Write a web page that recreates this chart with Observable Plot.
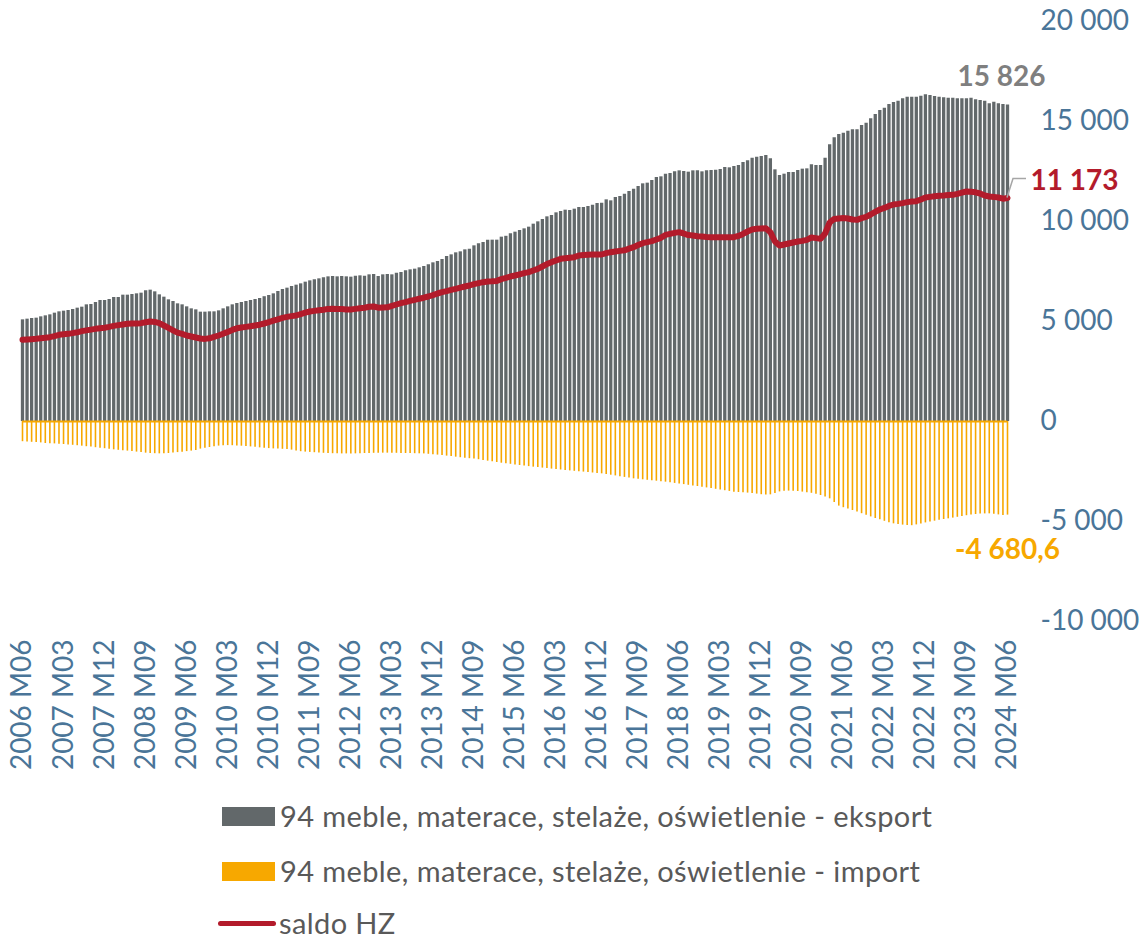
<!DOCTYPE html>
<html><head><meta charset="utf-8">
<script src="https://cdn.jsdelivr.net/npm/d3@7"></script>
<script src="https://cdn.jsdelivr.net/npm/@observablehq/plot@0.6"></script>
<style>
html,body{margin:0;padding:0;background:#fff;}
body{width:1140px;height:941px;position:relative;font-family:Lato,"Open Sans",sans-serif;}
#chart{position:absolute;left:0;top:0;}
.lg{position:absolute;left:0;height:26px;line-height:26px;display:flex;align-items:center;font-size:29px;letter-spacing:0.4px;color:#595959;white-space:nowrap;}
.sw{display:inline-block;margin-right:5px;}
</style></head>
<body>
<div id="chart"></div>
<div id="legend"></div>
<script>
// ---- data ----
const startYear = 2006, startMonth = 6;
const exportVals = [
5083,5117,5150,5167,5233,5283,5333,5417,5483,5517,
5550,5600,5667,5717,5833,5850,5950,6050,6050,6100,
6200,6200,6317,6317,6350,6383,6417,6533,6567,6483,
6333,6217,6083,6000,5883,5833,5733,5633,5583,5467,
5467,5483,5483,5533,5633,5733,5833,5900,5950,6000,
6050,6100,6150,6240,6300,6383,6500,6600,6667,6750,
6817,6883,6967,7033,7083,7133,7183,7233,7250,7233,
7250,7233,7217,7267,7283,7267,7333,7350,7250,7333,
7350,7333,7417,7450,7533,7583,7617,7683,7750,7833,
7933,8000,8100,8250,8333,8433,8483,8583,8617,8783,
8883,8950,9067,9067,9067,9217,9260,9383,9467,9550,
9633,9717,9867,9983,10100,10233,10300,10433,10500,10567,
10550,10617,10700,10700,10750,10817,10900,10917,11083,11033,
11200,11250,11367,11500,11617,11750,11883,11917,12050,12200,
12233,12367,12400,12483,12533,12500,12467,12533,12533,12483,
12533,12550,12567,12600,12700,12683,12750,12800,12950,13033,
13167,13217,13250,13300,13133,12583,12300,12367,12450,12450,
12550,12617,12633,12833,12800,12800,13167,13833,14183,14350,
14417,14517,14583,14583,14800,14917,15133,15350,15550,15667,
15850,15950,16017,16133,16217,16217,16217,16267,16333,16300,
16250,16217,16183,16167,16167,16133,16133,16133,16167,16083,
16050,16017,15883,15967,15883,15850,15826];
const importVals = [
-1010,-1020,-1040,-1055,-1070,-1100,-1110,-1120,-1135,-1150,
-1170,-1190,-1210,-1233,-1260,-1280,-1310,-1333,-1360,-1390,
-1417,-1440,-1460,-1480,-1500,-1530,-1555,-1583,-1600,-1610,
-1617,-1615,-1600,-1580,-1555,-1533,-1505,-1480,-1450,-1380,
-1340,-1300,-1260,-1230,-1215,-1205,-1210,-1220,-1235,-1250,
-1270,-1290,-1317,-1340,-1355,-1370,-1380,-1390,-1400,-1430,
-1470,-1510,-1530,-1545,-1560,-1575,-1590,-1600,-1610,-1617,
-1620,-1620,-1620,-1617,-1610,-1600,-1595,-1590,-1585,-1583,
-1583,-1585,-1590,-1595,-1600,-1605,-1610,-1615,-1620,-1640,
-1660,-1680,-1700,-1730,-1755,-1783,-1810,-1835,-1860,-1880,
-1910,-1945,-1983,-2015,-2050,-2085,-2117,-2140,-2170,-2200,
-2225,-2255,-2283,-2305,-2330,-2355,-2380,-2400,-2425,-2450,
-2470,-2490,-2510,-2530,-2555,-2575,-2595,-2617,-2650,-2685,
-2720,-2760,-2795,-2830,-2867,-2890,-2915,-2940,-2960,-2985,
-3010,-3033,-3065,-3095,-3125,-3155,-3190,-3220,-3250,-3283,
-3320,-3355,-3390,-3425,-3460,-3495,-3533,-3550,-3565,-3580,
-3600,-3630,-3660,-3680,-3667,-3600,-3520,-3483,-3480,-3483,
-3500,-3530,-3560,-3590,-3640,-3700,-3780,-3867,-4050,-4230,
-4310,-4370,-4450,-4530,-4610,-4690,-4770,-4850,-4917,-4990,
-5060,-5117,-5150,-5180,-5200,-5210,-5170,-5120,-5070,-5020,
-4983,-4940,-4900,-4867,-4830,-4790,-4750,-4710,-4680,-4650,
-4630,-4620,-4617,-4640,-4670,-4700,-4680.6];
const saldoVals = [
4083,4100,4115,4133,4160,4190,4217,4270,4333,4360,
4383,4420,4460,4517,4555,4595,4633,4660,4690,4730,
4780,4820,4850,4883,4895,4905,4917,4960,5000,4980,
4917,4800,4680,4560,4440,4380,4300,4250,4200,4150,
4130,4160,4230,4300,4390,4480,4580,4660,4700,4730,
4760,4800,4840,4900,4967,5040,5110,5183,5230,5270,
5300,5370,5440,5500,5530,5560,5590,5630,5640,5630,
5620,5600,5600,5630,5660,5690,5740,5750,5690,5700,
5710,5780,5850,5917,5970,6030,6083,6140,6190,6250,
6320,6400,6467,6520,6580,6633,6690,6750,6800,6870,
6920,6967,7000,7010,7030,7120,7180,7250,7300,7360,
7420,7467,7550,7633,7750,7870,7967,8050,8133,8160,
8190,8217,8300,8320,8340,8350,8350,8350,8420,8467,
8500,8530,8560,8640,8717,8820,8917,8970,9020,9100,
9183,9330,9380,9430,9467,9400,9320,9300,9260,9250,
9230,9217,9217,9210,9217,9210,9217,9280,9380,9500,
9600,9633,9650,9667,9467,9000,8800,8850,8900,8950,
9000,9030,9080,9200,9170,9133,9400,9950,10130,10150,
10170,10150,10100,10083,10170,10230,10350,10480,10600,10680,
10780,10850,10880,10920,10970,11000,11017,11100,11200,11230,
11260,11290,11300,11320,11333,11380,11440,11500,11490,11460,
11400,11300,11250,11230,11200,11140,11173];
const tickLabels = ["2006 M06","2007 M03","2007 M12","2008 M09","2009 M06","2010 M03","2010 M12","2011 M09","2012 M06","2013 M03","2013 M12","2014 M09","2015 M06","2016 M03","2016 M12","2017 M09","2018 M06","2019 M03","2019 M12","2020 M09","2021 M06","2022 M03","2022 M12","2023 M09","2024 M06"];
const yTicks = [-10000,-5000,0,5000,10000,15000,20000];
const seriesNames = ["94 meble, materace, stelaże, oświetlenie - eksport","94 meble, materace, stelaże, oświetlenie - import","saldo HZ"];
const endLabels = ["15 826","11 173","-4 680,6"];

// ---- build table ----
const months = exportVals.map((_, i) => {
  const m = startMonth - 1 + i;
  return `${startYear + Math.floor(m / 12)} M${String(m % 12 + 1).padStart(2, "0")}`;
});
const data = months.map((month, i) => ({i, month, exp: exportVals[i], imp: importVals[i], saldo: saldoVals[i]}));
const tickIdx = tickLabels.map(l => months.indexOf(l));
const last = data[data.length - 1];

const C = {exp: "#62686a", imp: "#f7a800", saldo: "#b31b2b", axis: "#4a7598", grey: "#7f7f7f"};
const fmtY = d => d3.format(",")(d).replace(/,/g, " ").replace("−", "-");

const leader = (index, scales) => {
  const x0 = scales.x(last.i), y0 = scales.y(last.saldo);
  return d3.create("svg:path")
    .attr("d", `M${x0},${y0}L${x0 + 6},${y0 - 19}L${x0 + 19},${y0 - 19}`)
    .attr("fill", "none").attr("stroke", "#a6a6a6").attr("stroke-width", 1.5).node();
};

const chart = Plot.plot({
  width: 1140, height: 781,
  marginLeft: 22, marginRight: 133, marginTop: 21, marginBottom: 160,
  style: {fontFamily: "Lato, 'Open Sans', sans-serif", fontSize: "28px", background: "white", overflow: "visible"},
  x: {type: "linear", domain: [0, data.length - 1]},
  y: {domain: [-10000, 20000]},
  marks: [
    Plot.ruleX(data, {x: "i", y1: 0, y2: "exp", stroke: C.exp, strokeWidth: 3.3}),
    Plot.ruleX(data, {x: "i", y1: 0, y2: "imp", stroke: C.imp, strokeWidth: 1.6}),
    Plot.ruleY([0], {stroke: C.imp, strokeWidth: 2}),
    Plot.line(data, {x: "i", y: "saldo", stroke: C.saldo, strokeWidth: 6}),
    Plot.axisY({anchor: "right", ticks: yTicks, tickFormat: fmtY, tickSize: 0, tickPadding: 33, label: null, fill: C.axis, fontSize: 28}),
    Plot.axisX({ticks: tickIdx, tickFormat: i => months[i], tickRotate: -90, tickSize: 0, tickPadding: 18, label: null, fill: C.axis, fontSize: 28}),
    leader,
    Plot.text([last], {x: "i", y: "exp", text: () => endLabels[0], dx: -6, dy: -28, fill: C.grey, fontWeight: "bold", fontSize: 28}),
    Plot.text([last], {x: "i", y: "saldo", text: () => endLabels[1], dx: 23, dy: -17, textAnchor: "start", fill: C.saldo, fontWeight: "bold", fontSize: 28}),
    Plot.text([last], {x: "i", y: "imp", text: () => endLabels[2], dy: 35, fill: C.imp, fontWeight: "bold", fontSize: 28})
  ]
});
document.getElementById("chart").appendChild(chart);

// ---- legend ----
const lg = document.getElementById("legend");
const lgTops = [803, 858, 910];
seriesNames.forEach((name, k) => {
  const row = document.createElement("div");
  row.className = "lg";
  row.style.top = lgTops[k] + "px";
  row.style.left = (k === 2 ? 218 : 222) + "px";
  const sw = document.createElement("span");
  sw.className = "sw";
  if (k < 2) {
    sw.style.width = "53px"; sw.style.height = "19px";
    sw.style.background = k === 0 ? C.exp : C.imp;
  } else {
    sw.style.width = "58px"; sw.style.height = "5px"; sw.style.borderRadius = "3px";
    sw.style.background = C.saldo; sw.style.marginRight = "3px";
  }
  const tx = document.createElement("span");
  tx.textContent = name;
  row.appendChild(sw); row.appendChild(tx);
  lg.appendChild(row);
});
</script>
</body></html>
